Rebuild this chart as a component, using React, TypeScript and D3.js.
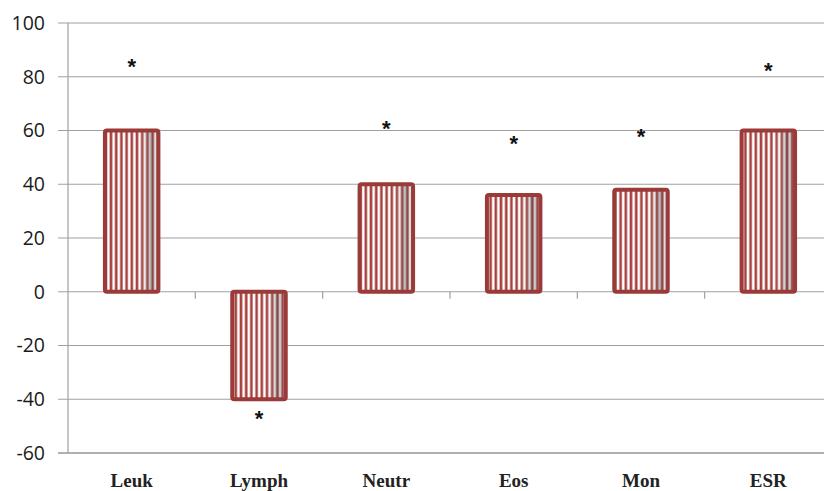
import React from "react";
import * as d3 from "d3";

const categories = ["Leuk", "Lymph", "Neutr", "Eos", "Mon", "ESR"];
const values = [60, -40, 40, 36, 38, 60];
const starValues = [85, -46, 62, 56.5, 59, 83.5];
const yTicks = [100, 80, 60, 40, 20, 0, -20, -40, -60];

const W = 824;
const H = 491;
const left = 68;
const top = 23;
const bottom = 453;
const right = 832;

export default function App() {
  const x = d3.scaleBand<string>().domain(categories).range([left, right]).paddingInner(0.58).paddingOuter(0.29);
  const step = x.step();
  const y = d3.scaleLinear().domain([-60, 100]).range([bottom, top]);
  const y0 = y(0);

  return (
    <svg width={W} height={H} style={{ position: "absolute", left: 0, top: 0 }}>
      <defs>
        <pattern id="stripes" patternUnits="userSpaceOnUse" width={5.2} height={10}>
          <rect x={0} y={0} width={5.2} height={10} fill="#ffffff" />
          <rect x={0.5} y={0} width={2.6} height={10} fill="#a8403e" />
        </pattern>
        <linearGradient id="shade" x1="0" x2="1" y1="0" y2="0">
          <stop offset="0" stopColor="#ffffff" stopOpacity={0} />
          <stop offset="0.6" stopColor="#ffffff" stopOpacity={0} />
          <stop offset="0.85" stopColor="#505050" stopOpacity={0.4} />
          <stop offset="1" stopColor="#808080" stopOpacity={0.1} />
        </linearGradient>
      </defs>
      <rect x={0} y={0} width={W} height={H} fill="#ffffff" />
      {yTicks.map((t) => (
        <g key={t}>
          <line x1={left - 10} x2={W} y1={y(t)} y2={y(t)} stroke={t === -60 ? "#b0b0b0" : "#a0a0a0"} strokeWidth={t === -60 ? 2 : 1.2} />
          <text x={left - 23} y={y(t)} dy="0.35em" textAnchor="end" fontFamily="'Open Sans', 'Noto Sans', sans-serif" fontSize={19.5} fill="#1a1a1a">
            {t}
          </text>
        </g>
      ))}
      <line x1={left} x2={left} y1={top} y2={bottom} stroke="#a0a0a0" strokeWidth={1.2} />
      {categories.map((c, i) => (
        <line key={"tk" + c} x1={left + step * (i + 1)} x2={left + step * (i + 1)} y1={y0} y2={y0 + 7} stroke="#a0a0a0" strokeWidth={1.2} />
      ))}
      {categories.map((c, i) => {
        const bx = x(c)!;
        const bw = x.bandwidth();
        const v = values[i];
        const yt = Math.min(y(v), y0);
        const bh = Math.abs(y(v) - y0);
        return (
          <g key={c}>
            <rect x={bx} y={yt} width={bw} height={bh} fill="url(#stripes)" />
            <rect x={bx} y={yt} width={bw} height={bh} fill="url(#shade)" />
            <rect x={bx} y={yt} width={bw} height={bh} fill="none" stroke="#9a3b39" strokeWidth={4} rx={2} />
          </g>
        );
      })}
      {categories.map((c, i) => (
        <text key={"s" + c} x={x(c)! + x.bandwidth() / 2} y={y(starValues[i])} dy="0.5em" textAnchor="middle" fontFamily="'Liberation Sans', sans-serif" fontWeight="bold" fontSize={22} fill="#111">
          *
        </text>
      ))}
      {categories.map((c) => (
        <text key={"l" + c} x={x(c)! + x.bandwidth() / 2} y={487} textAnchor="middle" fontFamily="'Liberation Serif', serif" fontWeight="bold" fontSize={19} fill="#222">
          {c}
        </text>
      ))}
    </svg>
  );
}
